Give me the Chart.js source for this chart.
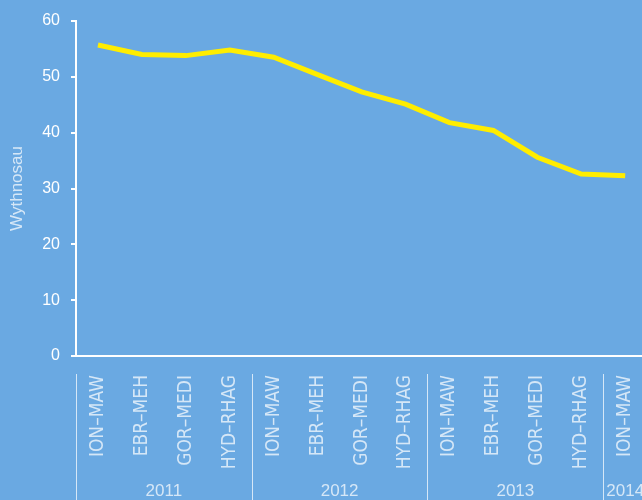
<!DOCTYPE html>
<html>
<head>
<meta charset="utf-8">
<script src="https://cdn.jsdelivr.net/npm/chart.js@4.4.1/dist/chart.umd.min.js"></script>
<style>
  html, body { margin: 0; padding: 0; background: #6aa9e2; overflow: hidden; width: 642px; height: 500px; }
  canvas { display: block; }
</style>
</head>
<body>
<canvas id="c" width="667" height="500"></canvas>
<script>
const categories = ['ION–MAW','EBR–MEH','GOR–MEDI','HYD–RHAG','ION–MAW','EBR–MEH','GOR–MEDI','HYD–RHAG','ION–MAW','EBR–MEH','GOR–MEDI','HYD–RHAG','ION–MAW'];
const values = [55.7, 54.0, 53.8, 54.8, 53.5, 50.4, 47.3, 45.1, 41.8, 40.4, 35.6, 32.6, 32.3];
const yearLabels = ['2011','2012','2013','2014'];
const yearCounts = [4, 4, 4, 1];
const yTitle = 'Wythnosau';

const pale = 'rgba(255,255,255,0.72)';

const groupPlugin = {
  id: 'groups',
  afterDraw(chart) {
    const xs = chart.scales.x;
    const ctx = chart.ctx;
    const half = (xs.getPixelForValue(1) - xs.getPixelForValue(0)) / 2;
    let idx = 0;
    ctx.save();
    yearLabels.forEach((lab, g) => {
      const start = xs.getPixelForValue(idx) - half;
      const end = xs.getPixelForValue(idx + yearCounts[g] - 1) + half;
      ctx.strokeStyle = pale;
      ctx.lineWidth = 1;
      ctx.beginPath();
      ctx.moveTo(Math.round(start) + 0.5, xs.top + 18);
      ctx.lineTo(Math.round(start) + 0.5, chart.height);
      ctx.stroke();
      ctx.fillStyle = pale;
      ctx.font = '17px "Liberation Sans", Arial, sans-serif';
      ctx.textAlign = 'center';
      ctx.textBaseline = 'middle';
      ctx.fillText(lab, (start + end) / 2, 491);
      idx += yearCounts[g];
    });
    ctx.restore();
  }
};

new Chart(document.getElementById('c'), {
  type: 'line',
  data: {
    labels: categories,
    datasets: [{
      data: values,
      borderColor: '#ffed00',
      borderWidth: 5,
      pointRadius: 0,
      tension: 0,
      fill: false
    }]
  },
  options: {
    responsive: false,
    animation: false,
    devicePixelRatio: 1,
    layout: { padding: { top: 21, right: 0, left: 0, bottom: 0 } },
    plugins: { legend: { display: false }, tooltip: { enabled: false } },
    scales: {
      x: {
        type: 'category',
        offset: true,
        grid: { display: false, drawTicks: false },
        border: { display: true, color: '#ffffff', width: 2 },
        ticks: {
          color: pale,
          minRotation: 90,
          maxRotation: 90,
          autoSkip: false,
          padding: 19,
          font: { family: '"DejaVu Sans Condensed", "Liberation Sans", Arial, sans-serif', size: 19 }
        },
        afterFit(scale) { scale.height = 144; }
      },
      y: {
        min: 0,
        max: 60,
        ticks: {
          stepSize: 10,
          color: '#ffffff',
          padding: 11,
          font: { family: '"Liberation Sans", Arial, sans-serif', size: 16 }
        },
        grid: { drawOnChartArea: false, drawTicks: true, tickLength: 5, color: '#ffffff', lineWidth: 2 },
        border: { display: true, color: '#ffffff', width: 2 },
        title: {
          display: true,
          text: yTitle,
          color: pale,
          padding: { top: 7, bottom: 0 },
          font: { family: '"Liberation Sans", Arial, sans-serif', size: 17 }
        },
        afterFit(scale) { scale.width = 76; }
      }
    }
  },
  plugins: [groupPlugin]
});
</script>
</body>
</html>
